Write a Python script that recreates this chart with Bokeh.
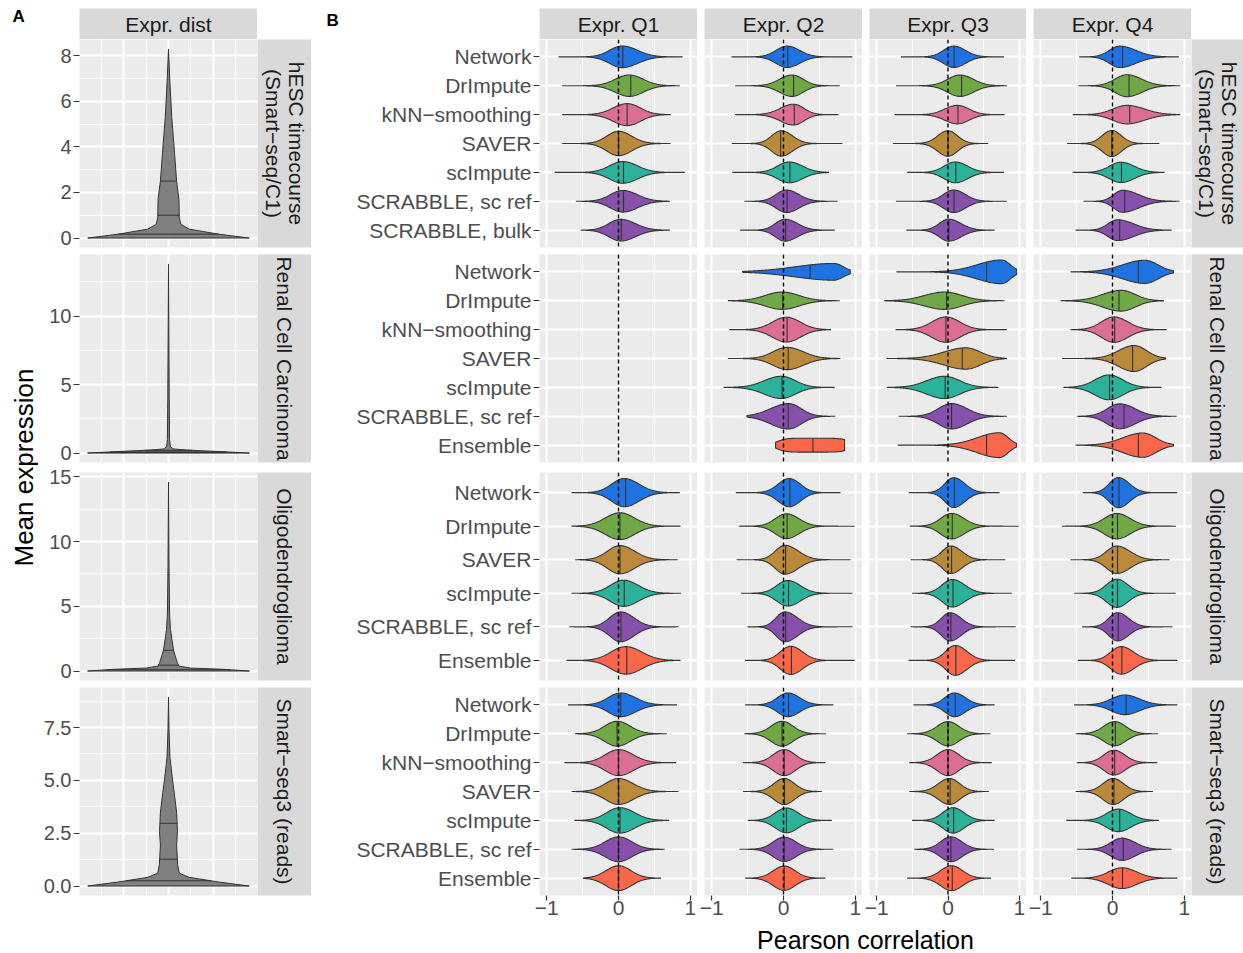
import numpy as np
from math import pi
from bokeh.plotting import figure
from bokeh.layouts import row, column
from bokeh.models import Range1d, FixedTicker, Label, Span, Grid, PrintfTickFormatter
from bokeh.embed import file_html
from bokeh.resources import INLINE

# ---------------------------------------------------------------- data
QUARTERS = ["Expr. Q1", "Expr. Q2", "Expr. Q3", "Expr. Q4"]
DATASET_LINES = [["hESC timecourse", "(Smart\u2212seq/C1)"],
                 ["Renal Cell Carcinoma"],
                 ["Oligodendroglioma"],
                 ["Smart\u2212seq3 (reads)"]]

METHODS_HESC = ["Network", "DrImpute", "kNN\u2212smoothing", "SAVER", "scImpute",
                "SCRABBLE, sc ref", "SCRABBLE, bulk"]
METHODS_RENAL = ["Network", "DrImpute", "kNN\u2212smoothing", "SAVER", "scImpute",
                 "SCRABBLE, sc ref", "Ensemble"]
METHODS_OLIGO = ["Network", "DrImpute", "SAVER", "scImpute", "SCRABBLE, sc ref", "Ensemble"]
METHODS_SS3 = ["Network", "DrImpute", "kNN\u2212smoothing", "SAVER", "scImpute",
               "SCRABBLE, sc ref", "Ensemble"]

# violin summaries:
# (min, max, median, mode, left spread, right spread, peak half-width[, shape])
HESC_Q1 = [(-0.83, 0.89, 0.06, 0.05, 0.17, 0.21, 0.375), (-0.78, 0.85, 0.17, 0.15, 0.19, 0.19, 0.37),
           (-0.78, 0.72, 0.12, 0.12, 0.19, 0.18, 0.38), (-0.78, 0.72, 0.00, 0.00, 0.16, 0.18, 0.42),
           (-0.89, 0.92, 0.07, 0.06, 0.18, 0.20, 0.375), (-0.59, 0.71, 0.07, 0.06, 0.17, 0.20, 0.375),
           (-0.52, 0.71, 0.04, 0.03, 0.16, 0.20, 0.375)]
HESC_Q2 = [(-0.72, 0.96, 0.06, 0.05, 0.15, 0.17, 0.37), (-0.67, 0.78, 0.14, 0.12, 0.17, 0.15, 0.37),
           (-0.67, 0.76, 0.15, 0.14, 0.18, 0.14, 0.36), (-0.72, 0.82, -0.04, -0.03, 0.13, 0.15, 0.44),
           (-0.71, 0.63, 0.09, 0.08, 0.16, 0.18, 0.36), (-0.54, 0.75, 0.05, 0.04, 0.14, 0.17, 0.39),
           (-0.60, 0.71, 0.03, 0.02, 0.13, 0.17, 0.38)]
HESC_Q3 = [(-0.66, 0.78, 0.085, 0.08, 0.14, 0.16, 0.37), (-0.73, 0.82, 0.19, 0.17, 0.17, 0.18, 0.37),
           (-0.75, 0.79, 0.14, 0.13, 0.17, 0.16, 0.32), (-0.77, 0.56, 0.00, 0.00, 0.14, 0.13, 0.44),
           (-0.57, 0.78, 0.11, 0.10, 0.15, 0.17, 0.36), (-0.73, 0.82, 0.085, 0.08, 0.14, 0.16, 0.39),
           (-0.58, 0.65, 0.01, 0.01, 0.13, 0.17, 0.38)]
HESC_Q4 = [(-0.46, 0.92, 0.14, 0.10, 0.14, 0.22, 0.37), (-0.47, 0.94, 0.23, 0.20, 0.16, 0.20, 0.38),
           (-0.55, 0.94, 0.24, 0.20, 0.19, 0.24, 0.32), (-0.63, 0.65, -0.01, -0.01, 0.13, 0.13, 0.45),
           (-0.55, 0.72, 0.125, 0.12, 0.16, 0.18, 0.35), (-0.40, 0.93, 0.17, 0.14, 0.12, 0.22, 0.38),
           (-0.51, 0.82, 0.10, 0.07, 0.13, 0.22, 0.36)]

RENAL_Q1 = []
RENAL_Q2 = [(-0.57, 0.93, 0.37, 0.70, 0.52, 0.13, 0.29), (-0.77, 0.78, -0.01, -0.02, 0.23, 0.23, 0.30),
            (-0.75, 0.66, 0.05, 0.04, 0.19, 0.19, 0.43), (-0.77, 0.79, 0.065, 0.05, 0.19, 0.22, 0.385),
            (-0.83, 0.71, -0.02, -0.03, 0.23, 0.19, 0.385), (-0.51, 0.72, 0.065, 0.07, 0.24, 0.17, 0.44),
            (-0.11, 0.85, 0.41, 0.40, 0.36, 0.40, 0.24, 6.0)]
RENAL_Q3 = [(-0.72, 0.96, 0.54, 0.75, 0.33, 0.12, 0.41), (-0.89, 0.79, -0.02, -0.05, 0.27, 0.24, 0.30),
            (-0.73, 0.82, -0.03, -0.03, 0.19, 0.19, 0.44), (-0.86, 0.82, 0.20, 0.25, 0.30, 0.20, 0.37),
            (-0.85, 0.70, -0.04, -0.05, 0.24, 0.21, 0.385), (-0.69, 0.82, 0.05, 0.05, 0.18, 0.21, 0.44),
            (-0.70, 0.96, 0.54, 0.72, 0.30, 0.12, 0.43)]
RENAL_Q4 = [(-0.58, 0.85, 0.36, 0.45, 0.30, 0.18, 0.40), (-0.72, 0.71, 0.09, 0.12, 0.25, 0.19, 0.36),
            (-0.58, 0.75, 0.03, 0.02, 0.17, 0.19, 0.44), (-0.70, 0.74, 0.28, 0.30, 0.21, 0.17, 0.45),
            (-0.68, 0.68, -0.04, -0.05, 0.19, 0.19, 0.43), (-0.49, 0.89, 0.16, 0.10, 0.17, 0.21, 0.43),
            (-0.51, 0.85, 0.36, 0.42, 0.27, 0.18, 0.42)]

OLIGO_Q1 = [(-0.65, 0.85, 0.10, 0.08, 0.17, 0.20, 0.42), (-0.65, 0.86, 0.02, 0.02, 0.20, 0.20, 0.40),
            (-0.60, 0.82, 0.02, 0.02, 0.17, 0.20, 0.42), (-0.65, 0.87, 0.08, 0.07, 0.18, 0.20, 0.39),
            (-0.68, 0.83, 0.035, 0.03, 0.15, 0.18, 0.445), (-0.72, 0.86, 0.115, 0.10, 0.20, 0.22, 0.41)]
OLIGO_Q2 = [(-0.66, 0.79, 0.09, 0.08, 0.15, 0.15, 0.42), (-0.62, 0.99, 0.05, 0.04, 0.15, 0.17, 0.37),
            (-0.65, 0.93, 0.03, 0.02, 0.13, 0.18, 0.43), (-0.59, 0.96, 0.07, 0.06, 0.15, 0.17, 0.38),
            (-0.50, 0.96, 0.03, 0.02, 0.12, 0.17, 0.445), (-0.53, 0.99, 0.11, 0.10, 0.14, 0.16, 0.42)]
OLIGO_Q3 = [(-0.55, 0.72, 0.09, 0.08, 0.12, 0.15, 0.445), (-0.53, 0.99, 0.06, 0.05, 0.15, 0.17, 0.38),
            (-0.52, 0.80, 0.05, 0.04, 0.12, 0.15, 0.41), (-0.50, 0.89, 0.07, 0.06, 0.14, 0.17, 0.41),
            (-0.52, 0.95, 0.04, 0.03, 0.12, 0.15, 0.42), (-0.55, 0.94, 0.11, 0.10, 0.13, 0.16, 0.445)]
OLIGO_Q4 = [(-0.41, 0.90, 0.09, 0.08, 0.12, 0.15, 0.45), (-0.70, 0.88, 0.07, 0.06, 0.17, 0.18, 0.38),
            (-0.58, 0.79, 0.07, 0.06, 0.14, 0.18, 0.41), (-0.53, 0.88, 0.07, 0.06, 0.14, 0.15, 0.42),
            (-0.42, 0.83, 0.08, 0.07, 0.12, 0.15, 0.42), (-0.48, 0.90, 0.13, 0.12, 0.14, 0.17, 0.41)]

SS3_Q1 = [(-0.70, 0.81, 0.03, 0.03, 0.17, 0.20, 0.41), (-0.60, 0.67, -0.02, -0.02, 0.17, 0.18, 0.43),
          (-0.75, 0.80, 0.00, 0.00, 0.18, 0.20, 0.45), (-0.65, 0.83, 0.00, 0.00, 0.18, 0.20, 0.45),
          (-0.61, 0.70, 0.02, 0.02, 0.18, 0.20, 0.44), (-0.65, 0.64, 0.00, 0.00, 0.18, 0.18, 0.43),
          (-0.49, 0.59, 0.00, 0.00, 0.17, 0.17, 0.43)]
SS3_Q2 = [(-0.53, 0.69, 0.07, 0.06, 0.14, 0.16, 0.41), (-0.54, 0.59, -0.02, -0.02, 0.15, 0.15, 0.43),
          (-0.56, 0.58, 0.01, 0.01, 0.15, 0.15, 0.45), (-0.56, 0.53, 0.015, 0.01, 0.14, 0.14, 0.45),
          (-0.49, 0.67, 0.04, 0.04, 0.15, 0.16, 0.43), (-0.61, 0.69, 0.01, 0.01, 0.15, 0.16, 0.42),
          (-0.53, 0.58, 0.01, 0.01, 0.15, 0.15, 0.42)]
SS3_Q3 = [(-0.48, 0.65, 0.10, 0.09, 0.13, 0.15, 0.41), (-0.57, 0.59, 0.00, 0.00, 0.15, 0.15, 0.42),
          (-0.54, 0.61, 0.00, 0.00, 0.15, 0.15, 0.45), (-0.54, 0.57, 0.03, 0.02, 0.15, 0.14, 0.45),
          (-0.50, 0.65, 0.08, 0.07, 0.14, 0.15, 0.44), (-0.47, 0.64, 0.04, 0.04, 0.14, 0.15, 0.43),
          (-0.57, 0.60, 0.06, 0.05, 0.15, 0.15, 0.43)]
SS3_Q4 = [(-0.53, 0.90, 0.19, 0.17, 0.18, 0.20, 0.34), (-0.51, 0.63, 0.04, 0.03, 0.15, 0.15, 0.42),
          (-0.49, 0.62, 0.03, 0.02, 0.14, 0.15, 0.43), (-0.51, 0.56, 0.02, 0.01, 0.14, 0.14, 0.45),
          (-0.64, 0.64, 0.10, 0.08, 0.16, 0.17, 0.39), (-0.49, 0.82, 0.15, 0.13, 0.15, 0.18, 0.385),
          (-0.57, 0.90, 0.14, 0.13, 0.18, 0.20, 0.36)]

# panel A: expression distribution outline (height, half-width) and quartiles
EXPR_Y_HESC = [0, 0.17, 0.39, 0.6, 0.9, 1.7, 2.5, 3.9, 5.3, 6.8, 8.3]
EXPR_W_HESC = [0.449, 0.28, 0.116, 0.069, 0.06, 0.058, 0.045, 0.032, 0.018, 0.008, 0.0]
EXPR_Q_HESC = [0.17, 1.0, 2.5]
EXPR_Y_RENAL = [0, 0.07, 0.14, 0.22, 0.3, 0.5, 1.0, 4.0, 13.8]
EXPR_W_RENAL = [0.45, 0.34, 0.23, 0.1, 0.025, 0.01, 0.006, 0.004, 0.0]
EXPR_Q_RENAL = [0.03, 0.08, 0.2]
EXPR_Y_OLIGO = [0, 0.13, 0.23, 0.38, 0.6, 1.6, 3.2, 4.4, 8.0, 14.6]
EXPR_W_OLIGO = [0.45, 0.31, 0.124, 0.059, 0.05, 0.028, 0.011, 0.006, 0.003, 0.0]
EXPR_Q_OLIGO = [0.1, 0.45, 1.6]
EXPR_Y_SS3 = [0, 0.19, 0.41, 0.61, 1.0, 1.94, 2.57, 3.5, 4.4, 5.2, 6.1, 7.4, 8.95]
EXPR_W_SS3 = [0.449, 0.28, 0.116, 0.06, 0.051, 0.045, 0.05, 0.045, 0.032, 0.02, 0.008, 0.003, 0.0]
EXPR_Q_SS3 = [0.25, 1.27, 2.97]

A_TICKS = [[0, 2, 4, 6, 8], [0, 5, 10], [0, 5, 10, 15], [0, 2.5, 5, 7.5]]
A_MINOR = [[1, 3, 5, 7], [2.5, 7.5, 12.5], [2.5, 7.5, 12.5], [1.25, 3.75, 6.25, 8.75]]
A_FORMAT = ["%d", "%d", "%d", "%.1f"]
X_TICKS = [-1, 0, 1]
X_LABELS = {-1: "\u22121", 0: "0", 1: "1"}

# ---------------------------------------------------------------- style
FONT = "Liberation Sans"
PANEL_BG = "#EBEBEB"
STRIP_BG = "#D9D9D9"
OUTLINE = "#333333"
TICK_TXT = "#4D4D4D"
FS = "21px"
FS_A = "20px"
COLORS = {"Network": "#1F73E0", "DrImpute": "#71A846", "kNN\u2212smoothing": "#DC6E93",
          "SAVER": "#BA893A", "scImpute": "#2BB29A", "SCRABBLE, sc ref": "#8650AB",
          "SCRABBLE, bulk": "#8650AB", "Ensemble": "#F8674A"}
SHAPE = 2.0          # kernel exponent used to draw the violin outline
KERNEL_SCALE = 1.45  # spread -> kernel width


def base_fig(w, h, xr, yr, left=0, right=0, top=0, bottom=0, bg=PANEL_BG, xaxis=None, yaxis=None):
    return figure(width=w, height=h, x_range=xr, y_range=yr, tools="", toolbar_location=None,
                  output_backend="svg", x_axis_location=xaxis, y_axis_location=yaxis,
                  min_border_left=left, min_border_right=right, min_border_top=top,
                  min_border_bottom=bottom, background_fill_color=bg,
                  border_fill_color="white", outline_line_color=None)


def style_grid(p, dim, ticks, minors):
    gs = [r for r in p.center if isinstance(r, Grid) and r.dimension == dim]
    if not gs:
        g = Grid(dimension=dim)
        p.add_layout(g)
        gs = [g]
    for g in gs:
        g.ticker = FixedTicker(ticks=ticks, minor_ticks=minors)
        g.grid_line_color = "white"
        g.grid_line_width = 2
        g.minor_grid_line_color = "white" if minors else None
        g.minor_grid_line_width = 1


def no_grid(p):
    for r in p.center:
        if isinstance(r, Grid):
            r.visible = False


def style_axis(ax, fs=FS):
    ax.axis_line_color = None
    ax.major_tick_line_color = OUTLINE
    ax.major_tick_line_width = 1.2
    ax.major_tick_out = 6
    ax.major_tick_in = 0
    ax.minor_tick_out = 0
    ax.minor_tick_in = 0
    ax.major_label_text_font = FONT
    ax.major_label_text_font_size = fs
    ax.major_label_text_color = TICK_TXT
    ax.major_label_standoff = 2


def strip_fig(w, h, lines, vertical, left=0, top=0, bottom=0):
    p = base_fig(w, h, Range1d(0, 1), Range1d(0, 1), left=left, top=top, bottom=bottom, bg=STRIP_BG)
    no_grid(p)
    n = len(lines)
    fw = w - left
    for i, t in enumerate(lines):
        if vertical:
            x = 0.5 + ((n - 1) / 2 - i) * 23.0 / fw
            p.add_layout(Label(x=x, y=0.5, text=t, angle=-pi / 2, text_align="center",
                               text_baseline="middle", text_font=FONT, text_font_size=FS,
                               text_color="#1A1A1A"))
        else:
            p.add_layout(Label(x=0.5, y=0.5, text=t, text_align="center", text_baseline="middle",
                               text_font=FONT, text_font_size=FS, text_color="#1A1A1A"))
    return p


def blank_fig(w, h, xr, yr):
    p = base_fig(w, h, xr, yr, bg="white")
    no_grid(p)
    return p


def violin_shape(v):
    lo, hi, med, mode, sl, sr, peak = v[:7]
    shp = v[7] if len(v) > 7 else SHAPE
    sl, sr = sl * KERNEL_SCALE, sr * KERNEL_SCALE
    xs = np.linspace(lo, hi, 180)
    s = np.where(xs < mode, sl, sr)
    w = peak * np.exp(-(np.abs(xs - mode) / s) ** shp)
    sm = sl if med < mode else sr
    wm = peak * np.exp(-(abs(med - mode) / sm) ** shp)
    return xs, w, med, wm


# ---------------------------------------------------------------- layout
ROW_H = 208
A_ROWS = [(EXPR_Y_HESC, EXPR_W_HESC, EXPR_Q_HESC), (EXPR_Y_RENAL, EXPR_W_RENAL, EXPR_Q_RENAL),
          (EXPR_Y_OLIGO, EXPR_W_OLIGO, EXPR_Q_OLIGO), (EXPR_Y_SS3, EXPR_W_SS3, EXPR_Q_SS3)]
B_ROWS = [(METHODS_HESC, [HESC_Q1, HESC_Q2, HESC_Q3, HESC_Q4]),
          (METHODS_RENAL, [RENAL_Q1, RENAL_Q2, RENAL_Q3, RENAL_Q4]),
          (METHODS_OLIGO, [OLIGO_Q1, OLIGO_Q2, OLIGO_Q3, OLIGO_Q4]),
          (METHODS_SS3, [SS3_Q1, SS3_Q2, SS3_Q3, SS3_Q4])]
B_W = [386, 165, 164, 165]
B_L = [228, 7, 7, 7]
TOP_H = 39
XLAB_H = 29
ROW_TOP = [0, 5, 8, 5]
ROW_BOTTOM = [2, 2, 2, 29]

# left title column
tcol = blank_fig(38, 953, Range1d(0, 38), Range1d(953, 0))
tcol.add_layout(Label(x=12, y=16, text="A", text_font=FONT, text_font_size="17px",
                      text_font_style="bold", text_baseline="middle", text_color="black"))
tcol.add_layout(Label(x=23, y=467, text="Mean expression", angle=pi / 2, text_align="center",
                      text_baseline="middle", text_font=FONT, text_font_size="26px", text_color="black"))

# top strip band
bsp = blank_fig(282, TOP_H, Range1d(0, 282), Range1d(TOP_H, 0))
bsp.add_layout(Label(x=69, y=15, text="B", text_font=FONT, text_font_size="17px",
                     text_font_style="bold", text_baseline="middle", text_color="black"))
band0 = [strip_fig(219, TOP_H, ["Expr. dist"], False, left=41, top=8), bsp]
for c in range(4):
    band0.append(strip_fig(B_W[c] - (B_L[c] if c == 0 else 0), TOP_H, [QUARTERS[c]], False,
                           left=0 if c == 0 else 7, top=8))
band0.append(blank_fig(52, TOP_H, Range1d(0, 1), Range1d(0, 1)))
bands = [row(band0, spacing=0)]

for r in range(4):
    top = ROW_TOP[r]
    bottom = ROW_BOTTOM[r]
    h = ROW_H + top + bottom
    ys, ws, qs = A_ROWS[r]
    ymax = ys[-1]
    pad = 0.05 * ymax
    pa = base_fig(219, h, Range1d(-0.495, 0.495), Range1d(-pad, ymax + pad), left=41,
                  top=top, bottom=bottom, yaxis="left")
    style_grid(pa, 0, [-0.25, 0, 0.25], [-0.375, -0.125, 0.125, 0.375])
    style_grid(pa, 1, A_TICKS[r], A_MINOR[r])
    ax = pa.yaxis[0]
    ax.ticker = FixedTicker(ticks=A_TICKS[r], minor_ticks=A_MINOR[r])
    ax.formatter = PrintfTickFormatter(format=A_FORMAT[r])
    style_axis(ax, FS_A)
    ya = np.array(ys, dtype=float)
    wa = np.array(ws, dtype=float)
    pa.patch(np.concatenate([-wa, wa[::-1]]), np.concatenate([ya, ya[::-1]]),
             fill_color="#808080", line_color=OUTLINE, line_width=1)
    qw = np.interp(qs, ya, wa)
    pa.segment(x0=list(-qw), y0=qs, x1=list(qw), y1=qs, line_color=OUTLINE, line_width=1)
    sa = strip_fig(54, h, DATASET_LINES[r], True, top=top, bottom=bottom)

    methods, panels = B_ROWS[r]
    n = len(methods)
    figs = [pa, sa]
    for c in range(4):
        p = base_fig(B_W[c], h, Range1d(-1.1, 1.1), Range1d(0.4, n + 0.6), left=B_L[c],
                     top=top, bottom=bottom, xaxis="below" if r == 3 else None,
                     yaxis="left" if c == 0 else None)
        style_grid(p, 0, X_TICKS, [-0.5, 0.5])
        style_grid(p, 1, list(range(1, n + 1)), [])
        if c == 0:
            ax = p.yaxis[0]
            ax.ticker = FixedTicker(ticks=list(range(1, n + 1)))
            ax.major_label_overrides = {n - k: m for k, m in enumerate(methods)}
            style_axis(ax)
        if r == 3:
            ax = p.xaxis[0]
            ax.ticker = FixedTicker(ticks=X_TICKS, minor_ticks=[-0.5, 0.5])
            ax.major_label_overrides = dict(X_LABELS)
            style_axis(ax)
            ax.major_tick_out = 5
            ax.major_label_standoff = 0
        pxs, pys, cols, mx, my0, my1 = [], [], [], [], [], []
        for k, v in enumerate(panels[c]):
            yc = n - k
            xs, w, med, wm = violin_shape(v)
            pxs.append(np.concatenate([xs, xs[::-1]]))
            pys.append(np.concatenate([yc + w, (yc - w)[::-1]]))
            cols.append(COLORS[methods[k]])
            mx.append(med)
            my0.append(yc - wm)
            my1.append(yc + wm)
        if pxs:
            p.patches(xs=pxs, ys=pys, fill_color=cols, line_color=OUTLINE, line_width=1.1)
            p.segment(x0=mx, y0=my0, x1=mx, y1=my1, line_color=OUTLINE, line_width=1.1)
        p.add_layout(Span(location=0, dimension="height", line_color="black",
                          line_dash="4 3", line_width=1.4))
        figs.append(p)
    figs.append(strip_fig(52, h, DATASET_LINES[r], True, top=top, bottom=bottom))
    bands.append(row(figs, spacing=0))

# x-axis title band
xt = blank_fig(652, XLAB_H, Range1d(0, 1), Range1d(0, 1))
xt.add_layout(Label(x=0.5, y=0.45, text="Pearson correlation", text_align="center",
                    text_baseline="middle", text_font=FONT, text_font_size="25px", text_color="black"))
bands.append(row([blank_fig(501, XLAB_H, Range1d(0, 1), Range1d(0, 1)), xt,
                  blank_fig(52, XLAB_H, Range1d(0, 1), Range1d(0, 1))], spacing=0))

root = row([tcol, column(bands, spacing=0)], spacing=0)

with open("out.html", "w") as f:
    f.write(file_html(root, INLINE))
